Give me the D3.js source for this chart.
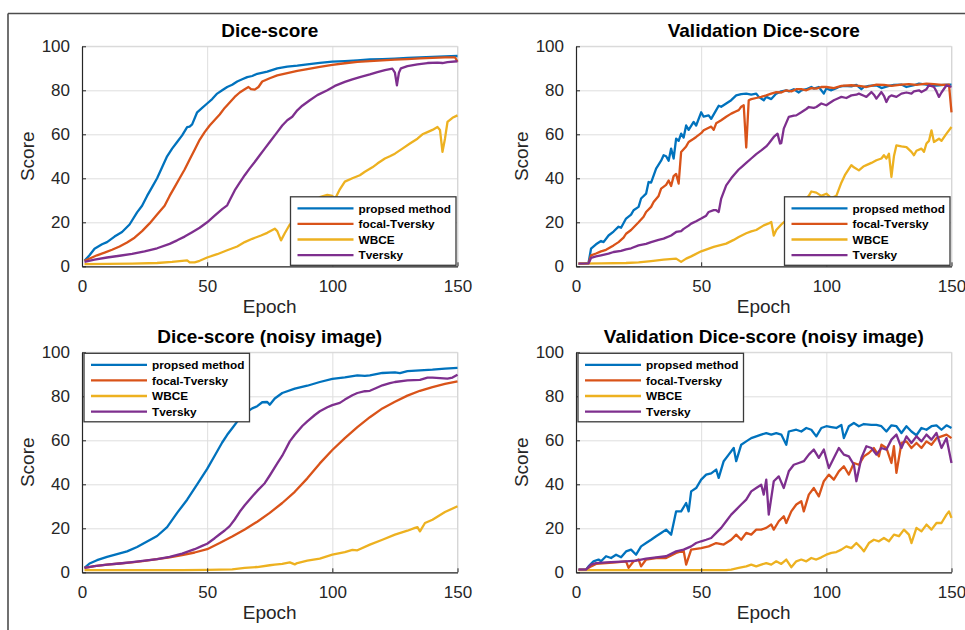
<!DOCTYPE html>
<html><head><meta charset="utf-8">
<script src="https://cdn.jsdelivr.net/npm/d3@7"></script>
<style>
html,body{margin:0;padding:0;background:#fff;}
svg{display:block;font-family:"Liberation Sans",Arial,Helvetica,sans-serif;}
</style></head>
<body><svg id="chart" width="965" height="630"></svg>
<script>
// ---------------- DATA ----------------
const titles = ["Dice-score", "Validation Dice-score", "Dice-score (noisy image)", "Validation Dice-score (noisy image)"];
const seriesNames = ["propsed method", "focal-Tversky", "WBCE", "Tversky"];
const epochTicks = [0, 50, 100, 150];
const scoreTicks = [0, 20, 40, 60, 80, 100];
const xLabel = "Epoch";
const yLabel = "Score";

// Panel 1: Dice-score  ([epoch, score])
const trainProposed = [[1,2.5],[3,5],[5,8],[8,10],[10,11],[13,13.5],[16,15.6],[19,19],[22,24.5],[24,27.5],[26,32],[28,36],[30,40],[32,45],[34,50],[36,53.5],[38,56.5],[40,59.5],[42,63.3],[43,63.5],[44,64.5],[46,70],[48,72],[50,74],[52,76],[54,78.5],[56,80],[58,81.5],[60,82.5],[62,84],[64,85],[66,86],[68,86.5],[70,87.5],[74,88.5],[78,90],[82,90.8],[86,91.2],[90,91.8],[95,92.5],[100,93],[105,93.3],[110,93.6],[115,94],[120,94.2],[125,94.4],[130,94.7],[135,95],[140,95.2],[145,95.4],[150,95.6]];
const trainFocal = [[1,2.5],[4,4],[6,5],[9,6.2],[12,7.5],[15,9],[18,10.8],[21,13],[24,16],[27,19.5],[30,23.5],[33,27.5],[35,32],[37,36],[39,40],[41,44],[43,48.5],[45,53],[47,57.5],[49,61],[51,64],[53,66.5],[55,69],[57,72],[59,74.5],[61,77],[63,79],[65,80.5],[66.5,81.5],[67.5,80.5],[69,80.3],[70.5,81.5],[72,84],[75,85.5],[78,86.8],[82,87.8],[86,88.8],[90,89.6],[95,90.6],[100,91.6],[105,92.3],[110,92.9],[115,93.3],[120,93.6],[125,93.9],[130,94.2],[135,94.5],[140,94.7],[145,95],[149,95],[150,93]];
const trainWBCE = [[1,1],[10,1.1],[20,1.2],[30,1.5],[36,2],[40,2.5],[42,2.7],[43,1.8],[45,1.8],[47,2.5],[50,4],[54,5.5],[58,7.3],[62,9],[65,11],[68,12.5],[71.5,14],[74,15.2],[77,17.1],[78,16],[79.5,11.8],[81,15],[83,19],[86,22],[89,25],[92,28],[95,31.5],[98,32.5],[100,32],[101,30.5],[103,35],[105,38.5],[108,40],[111,41.4],[113,43],[116,45],[118,46.7],[121,49],[123,50],[125,51.2],[128,53.5],[131,55.8],[134,58],[136,60],[138,61],[140,62],[142,63.3],[143,62],[144,52],[145,58],[146,65.6],[148,67.5],[150,68.6]];
const trainTversky = [[1,2],[5,3],[10,4],[15,4.8],[20,5.6],[25,6.8],[30,8.2],[35,10.2],[38,11.8],[41,13.5],[44,15.5],[47,17.5],[50,20],[53,23],[56,26],[58,27.7],[59,30],[61,34.5],[63,38],[65,41.4],[67,44.5],[69,47.4],[71,50.5],[73,53.5],[75,56.5],[78,61],[80,64],[82,66.4],[84,68],[86,70.9],[88,73],[91,75.5],[94,77.8],[98,80],[101,82],[105,83.8],[108,85],[111,86],[115,87.2],[118,88.3],[121,89.2],[124,89.8],[125,88],[125.8,82.3],[126.6,88],[127.4,90],[130,91],[134,91.8],[138,92.4],[142,92.6],[144,92.4],[146,92.8],[150,93.2]];

// Panel 2: Validation Dice-score
const valProposed = [[1,1.2],[3,1.2],[5,1.5],[6,8],[8,10],[10,11.5],[11,11],[13,14],[15,15.8],[17,18],[18,17.5],[20,21.7],[22,23.5],[23,25.5],[25,27],[26,30.8],[28,33],[29,38.3],[30,38],[32,44.4],[34,48],[35,50.5],[36,50],[37,48],[38,53.5],[39,49],[40,58],[41,57],[42,60.3],[43,58.5],[44,64],[45,62],[47,65.6],[48,64],[50,70],[51,68],[53,68.6],[54,67],[56,71],[57,73],[58,72.5],[60,74],[62,75.5],[64,77.7],[66,78.3],[68,78.5],[70,78],[72,78.5],[73,77],[75,75.5],[76,77],[78,76],[80,78.5],[82,79.5],[84,80],[85,79.5],[87,80.5],[89,79],[90,80],[92,80.5],[94,81.5],[95,80.8],[97,81.5],[99,78.5],[100,80.8],[102,80],[104,81],[105,81.5],[107,82],[110,81.8],[112,82.5],[114,80.5],[115,81.5],[117,82],[120,82.3],[122,81],[125,82],[127,82.5],[130,82.6],[132,81.5],[135,82.3],[137,83],[140,82.6],[142,82],[145,82.3],[147,82.5],[150,82.6]];
const valFocal = [[1,1.2],[5,1.3],[6,5],[8,5.8],[10,6.8],[12,7.5],[15,9.5],[17,11],[19,13],[20,14.8],[22,16.5],[25,20],[27,22.5],[28,24.7],[30,27],[31,29.2],[33,32],[34,35.3],[36,37],[37,39],[38,36.5],[39,41],[40,42],[41,37.6],[42,52],[44,54.5],[45,56.5],[47,58],[48,58.8],[50,60.5],[51,61.8],[53,63],[54,63.5],[55,62],[56,65],[58,66.4],[60,68],[62,69.4],[64,70.5],[65,71],[66,72.5],[67,73.2],[68,54],[69,75.5],[70,76],[72,76.5],[74,77],[76,77.7],[78,78.5],[80,79.2],[82,79],[84,80],[86,79.5],[88,80.5],[90,80.5],[92,80],[94,81],[96,80.8],[98,81.5],[100,81.5],[103,81],[106,82],[110,82.3],[113,82],[116,81.5],[120,82.6],[123,82.5],[126,82],[130,82.6],[133,82.8],[136,82.5],[140,83],[143,82.8],[146,82.5],[149,82.6],[150,70]];
const valWBCE = [[1,1.2],[10,1.3],[20,1.5],[25,1.8],[30,2.4],[35,3],[40,3.5],[42,2],[44,3.5],[46,4.5],[50,6.8],[55,8.8],[60,10.3],[63,12],[65,13.3],[68,15],[70,15.9],[72,16.5],[75,18.6],[77,19.5],[78,20.2],[79,14],[80,16.5],[82,19],[85,22],[88,26],[91,30],[93,32],[94,34],[96,33.5],[98,32],[100,33],[102,31],[104,32],[106,38],[107.4,41.4],[110,46],[111,45],[113,43.6],[115,45.5],[116,46],[118,47],[120,48.2],[122,49],[123,50.5],[124,49],[125,51.2],[126,40.6],[127,50],[128,55],[130,54.5],[132,54.2],[134,52],[135,50.5],[136,52.5],[138,53.5],[139,52],[140,55.8],[141,57],[142,61.8],[143,56.5],[145,58],[146,57],[148,60.3],[150,63.3]];
const valTversky = [[1,1.2],[5,1.3],[6,3.8],[8,4.5],[10,5],[13,5.8],[15,6.5],[18,7],[20,7.7],[22,8.2],[25,9.5],[28,10.2],[30,11],[33,12],[35,12.6],[38,14],[40,15.6],[42,16],[43,17],[45,18.5],[46,19.4],[48,20.5],[50,21.7],[52,23],[53,24.7],[55,25.5],[56,25.5],[57,24.7],[58,30.8],[60,36.8],[62,40],[63,41.4],[65,44],[66,45],[68,47],[70,49],[72,51],[74,52.7],[76,54.5],[77,55.8],[79,58.8],[80.5,60.3],[81.5,55.8],[82,56],[83,62.6],[85,67.9],[87,68.5],[88,68.6],[90,70],[92,71.5],[93,72.4],[95,72],[96,72.4],[98,74],[100,73.2],[101,74],[103,75.5],[105,76.5],[106,77],[108,76.5],[110,77.7],[112,78],[113,78.5],[115,77.5],[116,77],[118,79.2],[119,78],[120,76.2],[122,79.2],[123,77.5],[124,74.7],[125,77],[126,77.7],[128,77],[130,78.5],[132,79],[134,78.5],[135,79.5],[137,80],[138,79.2],[140,80.5],[141,82.3],[143,81.5],[144,79.5],[145,77],[146,79],[148,82.3],[150,81.5]];

// Panel 3: Dice-score (noisy image)
const noisyProposed = [[1,2],[3,4],[6,5.5],[10,7],[14,8.3],[18,9.5],[22,11.5],[26,14],[30,16.5],[34,20.5],[38,27],[42,33],[46,40],[50,47],[53,53],[56,59],[58,62.5],[60,65.5],[62,68.5],[64,71],[66,73],[68,74.5],[70,75.5],[72,77.3],[74,77.4],[75,76.2],[77,79],[80,81.5],[85,83.5],[90,84.8],[95,86.5],[100,87.9],[105,88.6],[110,89.5],[113,89.3],[115,89.5],[120,90.6],[125,90.9],[127,90.5],[130,91.4],[135,91.8],[140,92.1],[145,92.6],[150,92.9]];
const noisyFocal = [[1,2],[5,2.8],[10,3.5],[15,4],[20,4.5],[25,5.2],[30,6],[35,6.8],[40,7.8],[45,9],[50,10.5],[55,13.3],[60,16.3],[65,19.5],[70,23],[75,27],[80,31.5],[85,36.6],[90,42.7],[95,49.5],[100,55.6],[105,61],[110,66],[115,70.5],[120,74.5],[125,77.5],[130,80.3],[135,82.5],[140,84.2],[145,85.6],[150,86.8]];
const noisyWBCE = [[1,1],[10,1],[20,1],[30,1],[40,1],[50,1.1],[60,1.3],[65,2],[70,2.4],[75,3.2],[77,3.5],[80,3.8],[83,4.5],[85,3.6],[86,4.2],[90,5.3],[95,6.2],[100,8],[105,9.2],[108,10.2],[110,10],[115,12.6],[120,14.8],[125,17.1],[130,18.9],[133,20.2],[134,20.5],[135,18.6],[137,22.4],[140,23.9],[145,27.4],[150,30]];
const noisyTversky = [[1,2],[5,2.8],[10,3.5],[15,4],[20,4.6],[25,5.3],[30,6],[35,7],[40,8.5],[45,10.5],[48,12],[50,13],[53,15.5],[55,17.3],[57,19],[59,21],[61,24],[63,27.5],[65,30.5],[68,34.5],[70,37],[73,40.5],[75,44],[78,49.5],[80,53],[83,59.5],[85,62.5],[88,66.5],[90,68.6],[93,71.5],[95,73.2],[98,75],[100,76],[103,77],[105,78.5],[108,80.5],[110,81.5],[113,82.3],[115,82.5],[118,84],[120,85],[123,86],[125,86.5],[130,87.2],[135,87.5],[138,88.5],[140,88.5],[143,88.3],[146,88],[148,88.5],[150,89.8]];

// Panel 4: Validation Dice-score (noisy image)
const noisyValProposed = [[1,1.2],[4,1.2],[5,2.7],[7,5],[9,5.8],[10,5],[12,7.3],[14,6.5],[16,8],[18,6.8],[20,9.5],[22,10.3],[24,8],[26,11.8],[28,13.3],[30,14.8],[32,16.4],[34,17.9],[36,19.4],[38,17.1],[40,27.7],[42,27.7],[44,31.5],[45,27.7],[46,36.8],[48,38.3],[50,42.1],[52,44.4],[54,45],[56,46.7],[57,42.9],[59,50.5],[61,53.5],[63,56.5],[64,50.5],[66,58],[68,59.5],[70,61],[72,61.8],[74,62.6],[76,63.3],[78,62.6],[80,63.3],[82,62.6],[84,58],[85,64],[88,64.8],[90,64],[92,65.6],[94,64.8],[96,61.8],[98,65.6],[100,66.4],[102,66],[104,65.6],[106,67],[107,61],[109,66.4],[111,67.9],[113,66.4],[115,67.4],[118,67],[120,67],[122,66.4],[124,64],[126,66.8],[128,66.4],[130,63.3],[132,66.4],[134,64],[136,62.3],[138,65.6],[140,64.8],[142,66.4],[144,66.8],[146,64.8],[148,66.8],[150,65.6]];
const noisyValFocal = [[1,1.2],[4,1.2],[6,2.7],[8,3.8],[12,4.2],[16,4.5],[20,5],[21,2],[23,5],[25,5.8],[26,2.7],[28,5.8],[32,6.5],[36,6.5],[40,8.8],[43,9.8],[44,3.5],[46,10.3],[50,11],[53,11.8],[56,13.3],[59,12.6],[62,14.8],[64,17.1],[66,14.8],[68,17.9],[70,17.1],[72,19.4],[74,19.4],[76,20.2],[78,21.7],[79,19.4],[81,23.2],[83,25.5],[84,22.4],[86,27.7],[88,30.8],[90,32.3],[91,27.7],[93,35.3],[95,38.3],[97,34.5],[99,41.4],[101,44.4],[103,42.1],[105,45.9],[107,48.2],[109,44.4],[111,49.7],[113,48.9],[115,52.7],[117,54.2],[119,56.5],[121,52.7],[122,58],[124,56.5],[126,49.7],[127,57.3],[128,45.2],[130,58.8],[132,59.5],[134,56.5],[136,58.8],[138,56.5],[140,59.5],[142,58],[144,61],[146,61.8],[148,62.6],[150,61]];
const noisyValWBCE = [[1,1],[20,1],[40,1],[60,1],[62,1.2],[65,2],[68,2.7],[70,3.5],[72,2.7],[74,3.5],[76,4.2],[78,3.5],[80,5],[82,3.8],[84,5.8],[86,2.3],[88,5],[90,5.8],[92,5],[94,6.5],[96,5.8],[98,6.8],[100,8],[102,8.8],[104,9.2],[106,10.3],[108,11.8],[110,11],[112,13.3],[114,11],[115,9.5],[117,13.3],[119,14.8],[121,14.1],[123,15.6],[125,14.1],[127,17.1],[129,16.4],[131,19.4],[133,17.1],[134,13.3],[136,20.2],[138,18.6],[140,21.7],[142,19.4],[144,22.4],[146,22.4],[148,26.2],[149,27.7],[150,24.7]];
const noisyValTversky = [[1,1.2],[4,1.2],[6,3.5],[8,4.2],[12,4.5],[16,4.7],[20,5],[24,5.3],[28,6.2],[32,6.8],[36,7.3],[40,9.5],[43,10.3],[46,11.8],[48,13.3],[50,14.1],[52,14.8],[54,15.6],[56,17.9],[58,20.2],[60,23.2],[62,26.2],[64,28.5],[66,30.8],[68,33],[70,36.8],[72,38.3],[74,39.8],[75,35.3],[76,42.1],[77,26.2],[79,41.4],[81,43.6],[83,38.3],[85,45.9],[87,48.9],[89,49.7],[91,50.5],[93,53.5],[95,55.8],[97,52],[99,55.8],[101,47.4],[103,52],[105,56.5],[107,53.5],[109,52.7],[111,48.9],[112,41.4],[114,52],[116,57.3],[118,56.5],[120,53.5],[122,56.5],[124,55.8],[126,60.3],[128,62.6],[130,56.5],[132,61.8],[134,58.8],[136,61.8],[138,59.5],[140,62.6],[142,60.3],[144,63.3],[146,56.5],[148,61],[150,49.7]];

const panelSeries = [
  [trainProposed, trainFocal, trainWBCE, trainTversky],
  [valProposed, valFocal, valWBCE, valTversky],
  [noisyProposed, noisyFocal, noisyWBCE, noisyTversky],
  [noisyValProposed, noisyValFocal, noisyValWBCE, noisyValTversky]
];

// ---------------- STYLE / LAYOUT ----------------
const colors = ["#0072BD", "#D95319", "#EDB120", "#7E2F8E"];
const axisColor = "#262626";
const gridColor = "#dedede";
const layout = [
  {left: 82, right: 457.5, top: 46.3, bottom: 266.3, legend: "br"},
  {left: 576, right: 951.5, top: 46.3, bottom: 266.3, legend: "br"},
  {left: 82, right: 457.5, top: 352.3, bottom: 572.3, legend: "tl"},
  {left: 576, right: 951.5, top: 352.3, bottom: 572.3, legend: "tl"}
];

const svg = d3.select("#chart");

// outer frame (top and left edges)
svg.append("line").attr("x1", 8).attr("x2", 965).attr("y1", 13.5).attr("y2", 13.5)
  .attr("stroke", "#4d4d4d").attr("stroke-width", 1.6);
svg.append("line").attr("x1", 8).attr("x2", 8).attr("y1", 13.5).attr("y2", 630)
  .attr("stroke", "#4d4d4d").attr("stroke-width", 1.6);

layout.forEach((L, pi) => {
  const x = d3.scaleLinear().domain([0, 150]).range([L.left, L.right]);
  const y = d3.scaleLinear().domain([0, 100]).range([L.bottom, L.top]);
  const g = svg.append("g");
  const w = L.right - L.left, h = L.bottom - L.top;

  // grid
  g.append("g").attr("transform", `translate(0,${L.bottom})`)
    .call(d3.axisBottom(x).tickValues(epochTicks).tickSize(-h).tickFormat(""))
    .call(s => s.select(".domain").remove())
    .call(s => s.selectAll("line").attr("stroke", gridColor));
  g.append("g").attr("transform", `translate(${L.left},0)`)
    .call(d3.axisLeft(y).tickValues(scoreTicks).tickSize(-w).tickFormat(""))
    .call(s => s.select(".domain").remove())
    .call(s => s.selectAll("line").attr("stroke", gridColor));

  // top & right box edges (light)
  g.append("line").attr("x1", L.left).attr("x2", L.right).attr("y1", L.top).attr("y2", L.top)
    .attr("stroke", "#d6d6d6");
  g.append("line").attr("x1", L.right).attr("x2", L.right).attr("y1", L.top).attr("y2", L.bottom)
    .attr("stroke", "#d6d6d6");

  // series
  const line = d3.line().x(d => x(d[0])).y(d => y(d[1]));
  panelSeries[pi].forEach((s, si) => {
    g.append("path").datum(s).attr("d", line).attr("fill", "none")
      .attr("stroke", colors[si]).attr("stroke-width", 2.3).attr("stroke-linejoin", "round");
  });

  // axes
  const xa = g.append("g").attr("transform", `translate(0,${L.bottom})`)
    .call(d3.axisBottom(x).tickValues(epochTicks).tickSizeInner(-4).tickSizeOuter(0).tickPadding(10));
  const ya = g.append("g").attr("transform", `translate(${L.left},0)`)
    .call(d3.axisLeft(y).tickValues(scoreTicks).tickSizeInner(-4).tickSizeOuter(0).tickPadding(12));
  [xa, ya].forEach(a => {
    a.select(".domain").attr("stroke", axisColor).attr("stroke-width", 1.2);
    a.selectAll(".tick line").attr("stroke", axisColor);
    a.selectAll(".tick text").attr("fill", axisColor).style("font-size", "17px")
      .style("font-family", '"Liberation Sans",Arial,sans-serif');
  });
  xa.selectAll(".tick text").attr("dy", "0.9em");

  // title
  g.append("text").attr("x", (L.left + L.right) / 2).attr("y", L.top - 9.5)
    .attr("text-anchor", "middle").style("font-size", "19px").style("font-weight", "bold")
    .attr("fill", "#000").text(titles[pi]);
  // axis labels
  g.append("text").attr("x", (L.left + L.right) / 2).attr("y", L.bottom + 47)
    .attr("text-anchor", "middle").style("font-size", "19px").attr("fill", axisColor).text(xLabel);
  g.append("text").attr("transform", `translate(${L.left - 48},${(L.top + L.bottom) / 2}) rotate(-90)`)
    .attr("text-anchor", "middle").style("font-size", "19px").attr("fill", axisColor).text(yLabel);

  // legend
  const lw = 165.5, lh = 68.5;
  const lx = L.legend === "br" ? L.right - lw - 1.5 : L.left + 2;
  const ly = L.legend === "br" ? L.bottom - lh - 1 : L.top + 1;
  const lg = g.append("g").attr("transform", `translate(${lx},${ly})`);
  lg.append("rect").attr("width", lw).attr("height", lh).attr("fill", "#fff")
    .attr("stroke", "#3a3a3a").attr("stroke-width", 1.3);
  seriesNames.forEach((n, i) => {
    const yy = 11.5 + i * 15.6;
    lg.append("line").attr("x1", 7).attr("x2", 63).attr("y1", yy).attr("y2", yy)
      .attr("stroke", colors[i]).attr("stroke-width", 2.3);
    lg.append("text").attr("x", 68).attr("y", yy).attr("dy", "0.36em")
      .style("font-size", "11.8px").style("font-weight", "bold").attr("fill", "#000").text(n);
  });
});
</script></body></html>
